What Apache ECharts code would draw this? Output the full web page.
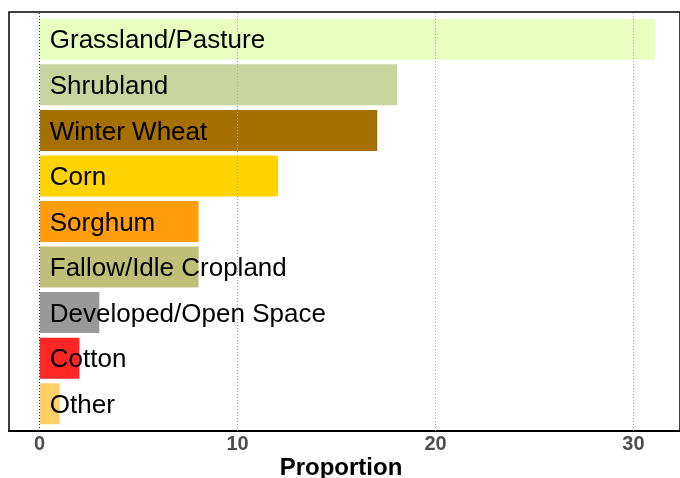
<!DOCTYPE html>
<html><head><meta charset="utf-8">
<script src="https://cdn.jsdelivr.net/npm/echarts@6/dist/echarts.min.js"></script>
<style>html,body{margin:0;padding:0;background:#fff}#c{width:680px;height:478px}</style>
</head><body><div id="c"></div>
<script>
const categories = ["Grassland/Pasture","Shrubland","Winter Wheat","Corn","Sorghum","Fallow/Idle Cropland","Developed/Open Space","Cotton","Other"];
const proportions = [31, 18, 17, 12, 8, 8, 3, 2, 1];
const barColors = ["#e8ffbf","#c8d69e","#a57000","#ffd300","#ff9e0a","#bfbf77","#999999","#ff2626","#ffd066"];
const tickValues = [0, 10, 20, 30];
const axisMin = -1.55, axisMax = 32.25;
const xTitle = "Proportion";
const FONT = "'Liberation Sans', Arial, sans-serif";

const chart = echarts.init(document.getElementById('c'), null, {renderer:'canvas'});
chart.setOption({
  animation: false,
  backgroundColor: '#fff',
  grid: [
    {left: 9, top: 12, width: 673, height: 419, show: true, borderColor: '#000', borderWidth: 1.5, backgroundColor: 'transparent'},
    {left: 9, top: 16.5, width: 671, height: 410, show: false}
  ],
  xAxis: [
    {gridIndex: 0, type: 'value', min: axisMin, max: axisMax + 2 / 19.85,
     axisLine: {show: true, onZero: false, lineStyle: {color: '#000', width: 2}},
     axisTick: {show: false}, splitLine: {show: false},
     axisLabel: {customValues: tickValues, color: '#4d4d4d', fontWeight: 'bold', fontSize: 20, fontFamily: FONT, margin: 3}},
    {gridIndex: 1, type: 'value', min: axisMin, max: axisMax, show: false, splitLine: {show: false}}
  ],
  yAxis: [
    {gridIndex: 0, type: 'value', min: 0, max: 1, show: false, splitLine: {show: false}},
    {gridIndex: 1, type: 'category', data: categories, inverse: true, show: false}
  ],
  graphic: [{type: 'text', x: 341, y: 468, style: {text: xTitle, font: "bold 24px " + FONT, fill: '#000', align: 'center', verticalAlign: 'middle'}}],
  series: [
    {type: 'line', xAxisIndex: 0, yAxisIndex: 0, data: [], silent: true,
     markLine: {silent: true, symbol: ['none','none'], label: {show: false},
       data: tickValues.map(v => ({xAxis: v, lineStyle: {color: v === 0 ? '#333' : '#aaa', type: [1, 2], width: 1}}))}},
    {type: 'bar', xAxisIndex: 1, yAxisIndex: 1, barWidth: 41,
     data: proportions.map((v, i) => ({value: v, itemStyle: {color: barColors[i]}})),
     label: {show: true, position: 'insideLeft', distance: 10, offset: [0, 2], color: '#000', fontSize: 26, fontFamily: FONT,
       formatter: p => categories[p.dataIndex]}}
  ]
});
</script></body></html>
